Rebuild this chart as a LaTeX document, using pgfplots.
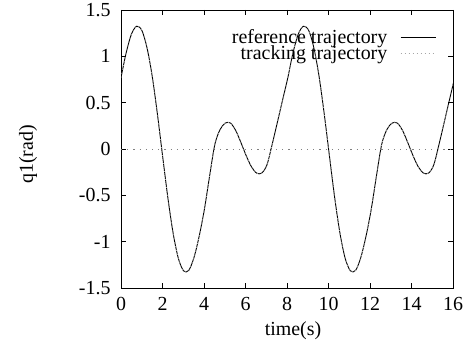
\documentclass[border=0pt]{standalone}
\usepackage{fontspec}
\setmainfont{Liberation Serif}
\usepackage{pgfplots}
\usepackage{pgfplotstable}
\pgfplotsset{compat=1.18}

\pgfplotstableread{
t v
0.000 0.77
0.251 1.04
0.503 1.24
0.754 1.325
1.005 1.28
1.256 1.09
1.508 0.78
1.759 0.37
2.010 -0.085
2.261 -0.53
2.513 -0.91
2.764 -1.18
3.015 -1.315
3.266 -1.31
3.518 -1.17
3.769 -0.94
4.020 -0.65
4.271 -0.29
4.523 0.05
4.774 0.21
5.025 0.28
5.276 0.28
5.528 0.20
5.779 0.07
6.030 -0.07
6.281 -0.19
6.533 -0.26
6.784 -0.26
7.035 -0.17
7.286 0.05
7.538 0.29
7.789 0.53
8.040 0.77
8.291 1.04
8.543 1.24
8.794 1.325
9.045 1.28
9.296 1.09
9.548 0.78
9.799 0.37
10.050 -0.085
10.301 -0.53
10.553 -0.91
10.804 -1.18
11.055 -1.315
11.306 -1.31
11.558 -1.17
11.809 -0.94
12.060 -0.65
12.311 -0.29
12.563 0.05
12.814 0.21
13.065 0.28
13.316 0.28
13.568 0.20
13.819 0.07
14.070 -0.07
14.321 -0.19
14.573 -0.26
14.824 -0.26
15.075 -0.17
15.326 0.05
15.578 0.29
15.829 0.53
16.080 0.77
}\qone

\begin{document}
\begin{tikzpicture}
\useasboundingbox (0,0) rectangle (476bp,342bp);
\begin{axis}[
  at={(121bp,54bp)}, anchor=south west,
  scale only axis, width=332bp, height=278bp,
  xmin=0, xmax=16, ymin=-1.5, ymax=1.5,
  xtick={0,2,...,16},
  ytick={-1.5,-1,-0.5,0,0.5,1,1.5},
  tick align=inside, major tick length=5bp,
  axis line style={line width=0.9bp},
  every tick/.style={black, line width=0.8bp},
  /pgf/number format/assume math mode=true,
  font=\fontsize{20}{23}\selectfont,
  ticklabel style={font=\fontsize{20}{23}\selectfont},
  yticklabel style={xshift=-7bp},
  xticklabel style={yshift=-6bp},
  xlabel={time(s)},
  ylabel={q1(rad)},
  xlabel style={at={(axis description cs:0.518,-0.152)}, anchor=center},
  ylabel style={at={(axis description cs:-0.28,0.48)}, anchor=center},
  legend plot pos=right,
  legend cell align=right,
  legend image code/.code={\path (0bp,0bp) (48bp,0bp); \draw[#1] (11bp,0bp) -- (46bp,0bp);},
  legend style={at={(axis description cs:0.965,0.946)}, anchor=north east,
    draw=none, fill=none, font=\fontsize{20}{23}\selectfont,
    row sep=-3bp},
]
\addplot[gray, dash pattern=on 1.2bp off 5bp, line width=0.8bp, forget plot]
  coordinates {(0,0) (16,0)};
\addplot[black, line width=0.9bp, smooth] table[x=t, y=v] {\qone};
\addlegendentry{reference trajectory}
\addplot[gray!70, dash pattern=on 1bp off 3bp, line width=0.8bp, smooth] table[x=t, y=v] {\qone};
\addlegendentry{tracking trajectory}
\end{axis}
\end{tikzpicture}
\end{document}
